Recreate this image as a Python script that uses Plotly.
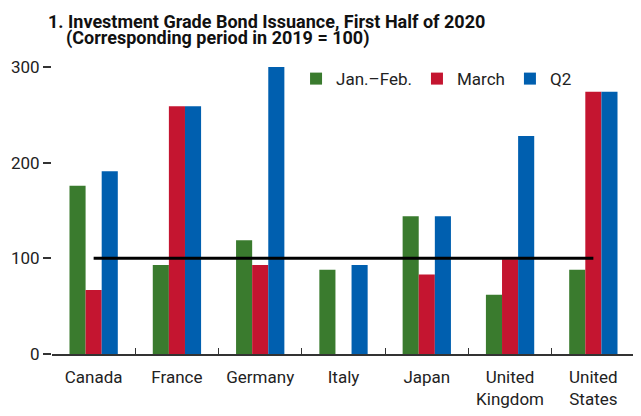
import plotly.graph_objects as go

# categories and series (corresponding period in 2019 = 100)
countries = ['Canada', 'France', 'Germany', 'Italy', 'Japan', 'United<br>Kingdom', 'United<br>States']
jan_feb = [176, 93, 119, 88, 144, 62, 88]
march = [67, 259, 93, None, 83, 99, 274]
q2 = [191, 259, 300, 93, 144, 228, 274]
baseline = [100] * len(countries)

series_names = ['Jan.–Feb.', 'March', 'Q2']
series_colors = ['#3A7B2E', '#C41530', '#005FAF']

font_family = "Roboto, Liberation Sans, sans-serif"

fig = go.Figure()

for name, vals, color in zip(series_names, [jan_feb, march, q2], series_colors):
    fig.add_trace(go.Bar(
        x=countries, y=vals, name=name,
        marker=dict(color=color, line=dict(width=0)),
    ))

# reference line at 100
fig.add_trace(go.Scatter(
    x=countries, y=baseline, mode='lines',
    line=dict(color='black', width=3),
    showlegend=False, hoverinfo='skip',
))

# two-line bold title, second line indented
fig.add_annotation(
    text='<b>1. Investment Grade Bond Issuance, First Half of 2020</b>',
    xref='paper', yref='paper', x=-0.01, y=1.203, xanchor='left', yanchor='top',
    showarrow=False, font=dict(size=18, color='#111', family=font_family),
)
fig.add_annotation(
    text='<b>(Corresponding period in 2019 = 100)</b>',
    xref='paper', yref='paper', x=0.021, y=1.100, xanchor='left', yanchor='middle',
    showarrow=False, font=dict(size=18, color='#111', family=font_family),
)

# page adds an 8px body margin, so the figure is 8px smaller than the window
fig.update_layout(
    width=633, height=408,
    margin=dict(l=44, r=6, t=59, b=62),
    paper_bgcolor='white', plot_bgcolor='white',
    font=dict(family=font_family, size=17, color='#222'),
    barmode='group', bargap=0.42, bargroupgap=0,
    legend=dict(orientation='h', x=0.4186, y=0.958, xanchor='left', yanchor='middle',
                font=dict(size=17), bgcolor='rgba(0,0,0,0)', itemclick=False),
    xaxis=dict(
        showline=True, linecolor='#333', linewidth=1.5,
        ticks='inside', tickson='boundaries', ticklen=6, tickcolor='#333',
        ticklabelstandoff=7,
        showgrid=False, automargin=False,
    ),
    yaxis=dict(
        range=[0, 300], tickvals=[0, 100, 200, 300],
        showline=False, showgrid=False, zeroline=False,
        ticks='outside', ticklen=8, tickcolor='#333', tickwidth=1.5,
        mirror='ticks', automargin=False,
    ),
)

fig.write_html("out.html")
